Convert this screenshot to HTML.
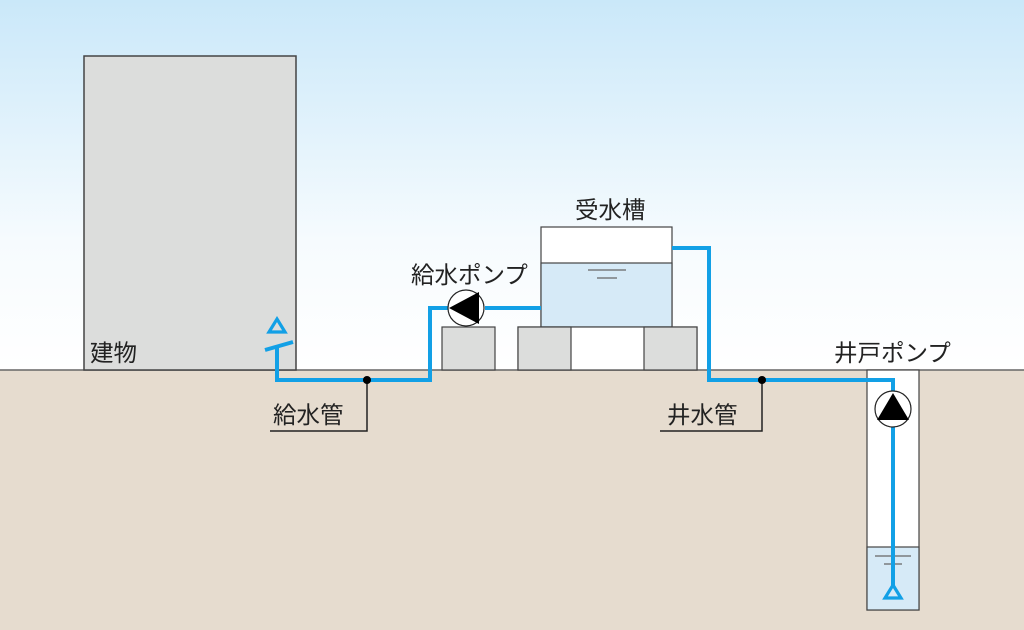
<!DOCTYPE html>
<html><head><meta charset="utf-8"><style>html,body{margin:0;padding:0;}svg{display:block}</style></head><body>
<svg width="1024" height="630" viewBox="0 0 1024 630" xmlns="http://www.w3.org/2000/svg" font-family="'Liberation Sans','Noto Sans CJK JP',sans-serif">
<defs><linearGradient id="sky" x1="0" y1="0" x2="0" y2="1"><stop offset="0" stop-color="#cae8f9"/><stop offset="0.65" stop-color="#f6fbfe"/><stop offset="1" stop-color="#ffffff"/></linearGradient></defs>
<rect x="0" y="0" width="1024" height="370" fill="url(#sky)"/>
<rect x="0" y="370" width="1024" height="260" fill="#e6dccf"/>
<line x1="0" y1="370" x2="1024" y2="370" stroke="#666" stroke-width="1.5"/>
<rect x="84" y="56" width="212" height="314" fill="#dcdddc" stroke="#444" stroke-width="1.5"/>
<rect x="541" y="227" width="131" height="100" fill="#fff" stroke="#444" stroke-width="1.2"/>
<rect x="541" y="263" width="131" height="64" fill="#d6eaf7" stroke="#444" stroke-width="1.2"/>
<line x1="588" y1="270" x2="626" y2="270" stroke="#666" stroke-width="1.2"/>
<line x1="597" y1="278" x2="617" y2="278" stroke="#666" stroke-width="1.2"/>
<rect x="518" y="327" width="179" height="43" fill="#fff" stroke="#444" stroke-width="1.2"/>
<rect x="442" y="327" width="53" height="43" fill="#dcdddc" stroke="#444" stroke-width="1.2"/>
<rect x="518" y="327" width="53" height="43" fill="#dcdddc" stroke="#444" stroke-width="1.2"/>
<rect x="644" y="327" width="53" height="43" fill="#dcdddc" stroke="#444" stroke-width="1.2"/>
<rect x="867" y="370" width="52" height="240" fill="#fff" stroke="#444" stroke-width="1.2"/>
<rect x="867" y="547" width="52" height="63" fill="#d6eaf7" stroke="#444" stroke-width="1.2"/>
<line x1="875" y1="556" x2="911" y2="556" stroke="#666" stroke-width="1.2"/>
<line x1="884" y1="564" x2="902" y2="564" stroke="#666" stroke-width="1.2"/>
<g fill="none" stroke="#12a0e6" stroke-width="4">
<polyline points="541,308 485,308"/>
<polyline points="448,308 430,308 430,380 277,380 277,347"/>
<line x1="265" y1="350" x2="293" y2="342"/>
<polyline points="672,248 709,248 709,380 893,380 893,392"/>
<line x1="893" y1="427" x2="893" y2="586"/>
<polygon points="277,319 285,332 269,332" stroke-width="3.2"/>
<polygon points="893,585 901,598 885,598" stroke-width="3.2"/>
</g>
<circle cx="466" cy="308" r="18" fill="#fff" stroke="#222" stroke-width="1.2"/>
<polygon points="449,308 479,292 479,324" fill="#000"/>
<circle cx="893" cy="409" r="18" fill="#fff" stroke="#222" stroke-width="1.2"/>
<polygon points="893,393 877,420 909,420" fill="#000"/>
<g stroke="#222" stroke-width="1.5" fill="none">
<polyline points="367,380 367,431 270,431"/>
<polyline points="762,380 762,431 660,431"/>
</g>
<circle cx="367" cy="380" r="4" fill="#000"/>
<circle cx="762" cy="380" r="4" fill="#000"/>
<g font-size="23.5" fill="#222">
<text x="90" y="361">建物</text>
<text x="575" y="218">受水槽</text>
<text x="411" y="283">給水ポンプ</text>
<text x="834" y="361">井戸ポンプ</text>
<text x="273" y="423">給水管</text>
<text x="667" y="423">井水管</text>
</g>
</svg>
</body></html>
